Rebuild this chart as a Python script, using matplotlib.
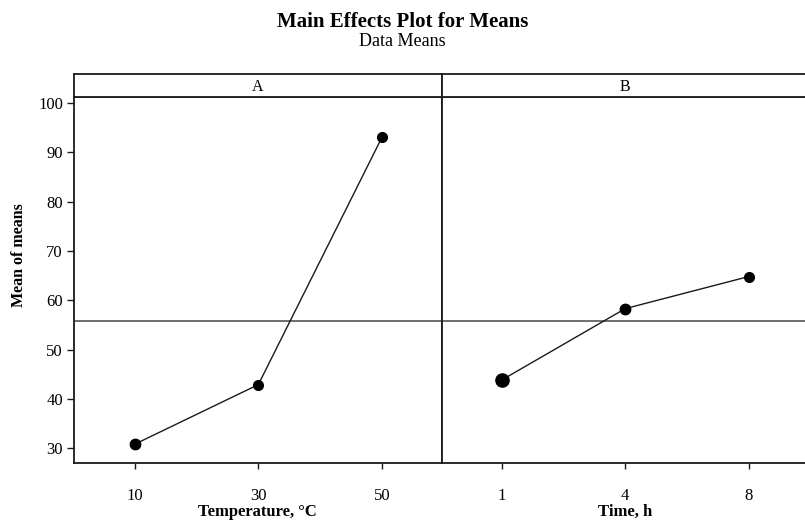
import matplotlib
matplotlib.use("Agg")
import matplotlib.pyplot as plt

# data
temp_levels = ["10", "30", "50"]
temp_means = [30.8, 42.9, 93.1]
time_levels = ["1", "4", "8"]
time_means = [43.85, 58.3, 64.8]
grand_mean = 55.7
y_ticks = [30, 40, 50, 60, 70, 80, 90, 100]

plt.rcParams.update({
    "font.family": "serif",
    "font.serif": ["Liberation Serif", "DejaVu Serif"],
    "font.size": 12,
})

W, H = 805, 520
fig = plt.figure(figsize=(W / 100, H / 100), dpi=100)

ax_left = 74 / W
ax_w = 367.5 / W
ax_bot = (H - 463) / H
ax_h = (463 - 97.3) / H
strip_h = (97.3 - 74) / H

panels = [
    ("A", temp_levels, temp_means, "Temperature, °C", [7.5, 7, 7]),
    ("B", time_levels, time_means, "Time, h", [9.5, 7.5, 7]),
]

ink = "#1a1a1a"
for i, (name, levels, means, xlabel, sizes) in enumerate(panels):
    left = ax_left + i * ax_w
    ax = fig.add_axes([left, ax_bot, ax_w, ax_h])
    x = list(range(len(levels)))
    ax.axhline(grand_mean, color="#6e6e6e", lw=1.4, zorder=1)
    ax.plot(x, means, color=ink, lw=1.0, zorder=2)
    for xi, yi, s in zip(x, means, sizes):
        ax.plot(xi, yi, "o", color="black", ms=s, zorder=3)
    ax.set_xlim(-0.49, 2.48 if i == 0 else 2.49)
    ax.set_ylim(27.0, 101.15)
    ax.set_xticks(x)
    ax.set_xticklabels(levels)
    ax.set_yticks(y_ticks)
    ax.tick_params(axis="x", direction="out", length=4, width=1, color=ink,
                   pad=14, labelsize=12)
    ax.tick_params(axis="y", direction="out", length=5, width=1, color=ink,
                   pad=3, labelsize=12)
    ax.set_xlabel(xlabel, fontweight="bold", fontsize=12)
    ax.xaxis.set_label_coords(left + ax_w / 2, 1 - 512 / H, transform=fig.transFigure)
    ax.xaxis.label.set_va("center")
    for sp in ax.spines.values():
        sp.set_color(ink)
        sp.set_linewidth(1.3)
    if i == 0:
        ax.set_ylabel("Mean of means", fontweight="bold", fontsize=11.5)
        ax.yaxis.set_label_coords(19 / W, 1 - 255 / H, transform=fig.transFigure)
        ax.yaxis.label.set_va("center")
    else:
        ax.tick_params(axis="y", left=False, labelleft=False)

    strip = fig.add_axes([left, ax_bot + ax_h, ax_w, strip_h])
    strip.set_xticks([])
    strip.set_yticks([])
    for sp in strip.spines.values():
        sp.set_color(ink)
        sp.set_linewidth(1.3)
    strip.text(0.5, 0.45, name, ha="center", va="center", fontsize=11.5)

fig.text(0.5, 1 - 22 / H, "Main Effects Plot for Means", ha="center", va="center",
         fontsize=15, fontweight="bold")
fig.text(0.5, 1 - 42 / H, "Data Means", ha="center", va="center", fontsize=13)

fig.savefig("out.png", dpi=100)
